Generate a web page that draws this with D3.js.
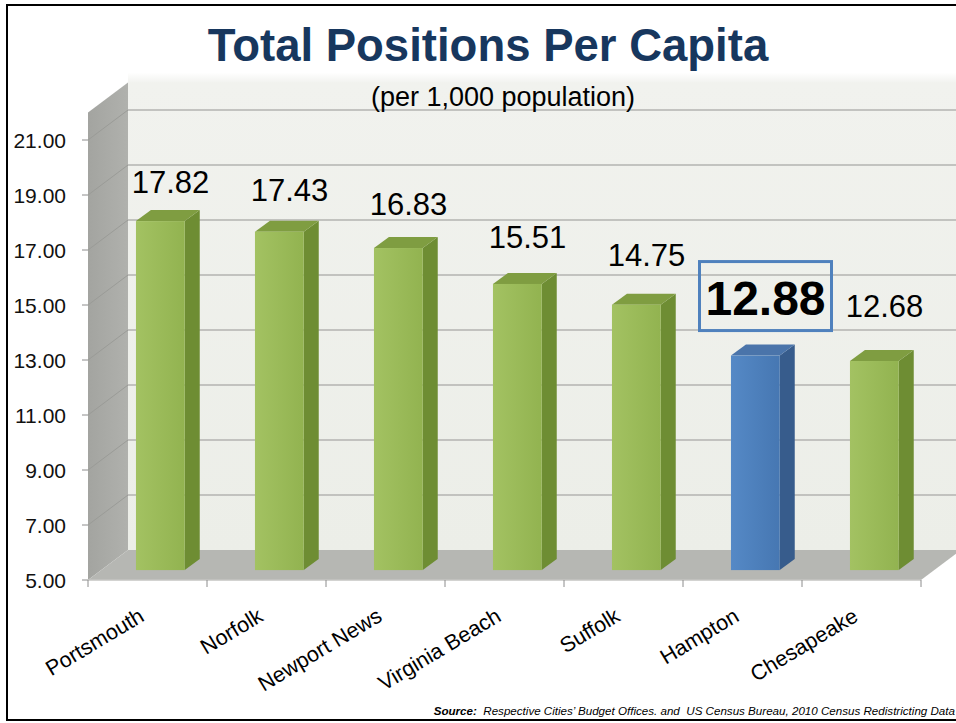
<!DOCTYPE html>
<html>
<head>
<meta charset="utf-8">
<script src="https://cdn.jsdelivr.net/npm/d3@7"></script>
<style>
  html, body { margin: 0; padding: 0; background: #fff; }
  svg { display: block; }
</style>
</head>
<body>
<svg id="chart" width="956" height="723"></svg>
<script>
// ---- data ----
const categories = ["Portsmouth", "Norfolk", "Newport News", "Virginia Beach", "Suffolk", "Hampton", "Chesapeake"];
const values = [17.82, 17.43, 16.83, 15.51, 14.75, 12.88, 12.68];
const highlight = ["Hampton"];
const yTicks = [5, 7, 9, 11, 13, 15, 17, 19, 21];
const yDomain = [5, 22];
const titleText = "Total Positions Per Capita";
const subtitleText = "(per 1,000 population)";
const sourceBold = "Source:";
const sourceText = "  Respective Cities\u2019 Budget Offices. and  US Census Bureau, 2010 Census Redistricting Data";

// ---- layout ----
const svg = d3.select("#chart");
const FONT = "'Liberation Sans', Arial, sans-serif";
const DX = 40, DY = -30;           // depth of the 3D box
const x = d3.scaleBand().domain(categories).range([88, 921]).padding(0);
const y = d3.scaleLinear().domain(yDomain).range([580, 112.5]);
const fBar = 0.33;                 // depth position of the bar front face
const yBar = d3.scaleLinear().domain(yDomain)
  .range([y(yDomain[0]) + DY * fBar, y(yDomain[0]) + DY * fBar - (y(yDomain[0]) - y(yDomain[1])) * 0.99]);
const bw = x.bandwidth() * 0.41;
const bOff = x.bandwidth() * 0.403;
const bDX = 15, bDY = -11;

const defs = svg.append("defs");
const wallGrad = defs.append("linearGradient").attr("id", "wall").attr("x1", 0).attr("y1", 0).attr("x2", 0).attr("y2", 1);
wallGrad.append("stop").attr("offset", "0%").attr("stop-color", "#f1f2ee");
wallGrad.append("stop").attr("offset", "100%").attr("stop-color", "#eceee8");
const glow = defs.append("linearGradient").attr("id", "glow").attr("x1", 0).attr("y1", 0).attr("x2", 0).attr("y2", 1);
glow.append("stop").attr("offset", "0%").attr("stop-color", "#ffffff");
glow.append("stop").attr("offset", "100%").attr("stop-color", "#eff0ec");
const sideGrad = defs.append("linearGradient").attr("id", "side").attr("x1", 0).attr("y1", 0).attr("x2", 1).attr("y2", 0);
sideGrad.append("stop").attr("offset", "0%").attr("stop-color", "#a3a4a0");
sideGrad.append("stop").attr("offset", "100%").attr("stop-color", "#b0b1ad");
function faceGrad(id, c1, c2) {
  const g = defs.append("linearGradient").attr("id", id).attr("x1", 0).attr("y1", 0).attr("x2", 1).attr("y2", 0);
  g.append("stop").attr("offset", "0%").attr("stop-color", c1);
  g.append("stop").attr("offset", "100%").attr("stop-color", c2);
}
faceGrad("gFront", "#a3c262", "#92b350");
faceGrad("bFront", "#5589c6", "#4677b2");

const y0 = y(yDomain[0]), yTop = y(yDomain[1]);
const xL = x.range()[0], xR = x.range()[1];

// glow above back wall
svg.append("rect").attr("x", xL + DX).attr("y", yTop + DY - 10).attr("width", xR - xL + 10).attr("height", 12)
  .attr("fill", "url(#glow)");
// back wall
svg.append("rect").attr("x", xL + DX).attr("y", yTop + DY).attr("width", xR - xL + 10).attr("height", y0 - yTop)
  .attr("fill", "url(#wall)");
// side wall
svg.append("polygon")
  .attr("points", [[xL, y0], [xL, yTop], [xL + DX, yTop + DY], [xL + DX, y0 + DY]].map(p => p.join(",")).join(" "))
  .attr("fill", "url(#side)");
// floor
svg.append("polygon")
  .attr("points", [[xL, y0], [xR, y0], [xR + DX, y0 + DY], [xL + DX, y0 + DY]].map(p => p.join(",")).join(" "))
  .attr("fill", "#b6b7b3");

// gridlines
const grid = yTicks.filter(t => t > yDomain[0]);
svg.append("g").selectAll("line").data(grid).join("line")
  .attr("x1", xL + DX).attr("x2", xR + DX + 10)
  .attr("y1", d => y(d) + DY).attr("y2", d => y(d) + DY)
  .attr("stroke", "#b3b3b0").attr("stroke-width", 1.6);
svg.append("g").selectAll("line").data(grid).join("line")
  .attr("x1", xL).attr("x2", xL + DX)
  .attr("y1", d => y(d)).attr("y2", d => y(d) + DY)
  .attr("stroke", "#9a9b97").attr("stroke-width", 1);

// y axis ticks & labels
const yAxisG = svg.append("g");
yAxisG.selectAll("line").data(yTicks).join("line")
  .attr("x1", xL - 6).attr("x2", xL).attr("y1", d => y(d)).attr("y2", d => y(d))
  .attr("stroke", "#8c8c8c").attr("stroke-width", 1);
yAxisG.selectAll("text").data(yTicks).join("text")
  .attr("x", 66).attr("y", d => y(d)).attr("dy", "0.36em")
  .attr("text-anchor", "end").attr("font-family", FONT).attr("font-size", 21).attr("fill", "#111")
  .text(d => d3.format(".2f")(d));

// x axis line & ticks
svg.append("line").attr("x1", xL).attr("x2", xR).attr("y1", y0).attr("y2", y0)
  .attr("stroke", "#c4c4c2").attr("stroke-width", 1.5);
const xTickPos = categories.map(c => x(c)).concat([xR]);
svg.append("g").selectAll("line").data(xTickPos).join("line")
  .attr("x1", d => d).attr("x2", d => d).attr("y1", y0).attr("y2", y0 + 7)
  .attr("stroke", "#8c8c8c").attr("stroke-width", 1);

// bars
const data = categories.map((c, i) => ({ c, v: values[i], i, hi: highlight.includes(c) }));
const bars = svg.append("g").selectAll("g").data(data).join("g");
bars.each(function (d) {
  const g = d3.select(this);
  const xl = x(d.c) + bOff, xr = xl + bw;
  const yt = yBar(d.v), yb = yBar(yDomain[0]);
  const front = d.hi ? "url(#bFront)" : "url(#gFront)";
  const side = d.hi ? "#375c8c" : "#6e8d33";
  const top = d.hi ? "#4a74aa" : "#7f9d41";
  g.append("polygon")
    .attr("points", [[xr, yt], [xr + bDX, yt + bDY], [xr + bDX, yb + bDY], [xr, yb]].map(p => p.join(",")).join(" "))
    .attr("fill", side);
  g.append("polygon")
    .attr("points", [[xl, yt], [xr, yt], [xr + bDX, yt + bDY], [xl + bDX, yt + bDY]].map(p => p.join(",")).join(" "))
    .attr("fill", top);
  g.append("rect").attr("x", xl).attr("y", yt).attr("width", bw).attr("height", yb - yt).attr("fill", front);
});

// value labels
data.forEach(d => {
  const cx = x(d.c) + x.bandwidth() / 2 + 23;
  const cy = yBar(d.v) - 39 - 2.6 * d.i;
  if (d.hi) {
    const hy = cy - 7;
    svg.append("rect").attr("x", cx - 66).attr("y", hy - 35).attr("width", 132).attr("height", 69)
      .attr("fill", "none").attr("stroke", "#4f81bd").attr("stroke-width", 3);
    svg.append("text").attr("x", cx).attr("y", hy + 18).attr("text-anchor", "middle")
      .attr("font-family", FONT).attr("font-weight", "bold").attr("font-size", 48).attr("fill", "#000")
      .text(d3.format(".2f")(d.v));
  } else {
    svg.append("text").attr("x", cx).attr("y", cy + 11).attr("text-anchor", "middle")
      .attr("font-family", FONT).attr("font-size", 31).attr("fill", "#000")
      .text(d3.format(".2f")(d.v));
  }
});

// category labels
svg.append("g").selectAll("text").data(categories).join("text")
  .attr("transform", c => `translate(${x(c) + x.bandwidth() / 2 - 2},620) rotate(-31)`)
  .attr("text-anchor", "end").attr("font-family", FONT).attr("font-size", 21.5).attr("fill", "#000")
  .text(c => c);

// title & subtitle
svg.append("text").attr("x", 488).attr("y", 61).attr("text-anchor", "middle")
  .attr("font-family", FONT).attr("font-weight", "bold").attr("font-size", 45.5).attr("fill", "#17375e")
  .text(titleText);
svg.append("text").attr("x", 503).attr("y", 106).attr("text-anchor", "middle")
  .attr("font-family", FONT).attr("font-size", 27).attr("fill", "#000")
  .text(subtitleText);

// source
const src = svg.append("text").attr("x", 955).attr("y", 715).attr("text-anchor", "end")
  .attr("font-family", FONT).attr("font-size", 11.6).attr("font-style", "italic").attr("fill", "#000");
src.append("tspan").attr("font-weight", "bold").text(sourceBold);
src.append("tspan").attr("xml:space", "preserve").style("white-space", "pre").text(sourceText);

// outer border
svg.append("rect").attr("x", 7).attr("y", 5).attr("width", 952).attr("height", 715)
  .attr("fill", "none").attr("stroke", "#000").attr("stroke-width", 2);
</script>
</body>
</html>
